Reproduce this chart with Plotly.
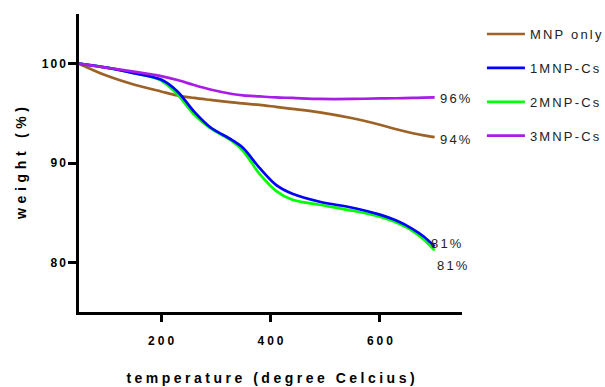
import plotly.graph_objects as go

temp = [50, 100, 150, 200, 230, 260, 290, 330, 350, 380, 410, 440, 490, 550, 600, 630, 660, 680, 700]
mnp_only = [100.0, 98.8, 97.9, 97.2, 96.8, 96.55, 96.35, 96.1, 96.0, 95.85, 95.65, 95.45, 95.1, 94.5, 93.85, 93.4, 93.0, 92.78, 92.6]
mnp1 = [100.0, 99.6, 99.05, 98.4, 97.2, 95.2, 93.6, 92.3, 91.5, 89.5, 87.8, 86.9, 86.1, 85.5, 84.8, 84.2, 83.35, 82.6, 81.6]
mnp2 = [100.0, 99.6, 99.05, 98.3, 96.9, 94.9, 93.5, 92.2, 91.2, 88.9, 87.2, 86.3, 85.8, 85.2, 84.6, 84.0, 83.15, 82.3, 81.2]
mnp3 = [100.0, 99.6, 99.2, 98.75, 98.35, 97.85, 97.4, 96.95, 96.8, 96.7, 96.6, 96.55, 96.45, 96.45, 96.5, 96.52, 96.55, 96.58, 96.6]

names = ["MNP only", "1MNP-Cs", "2MNP-Cs", "3MNP-Cs"]
series = [mnp_only, mnp1, mnp2, mnp3]
colors = ["#9C6226", "#0000FF", "#00FF00", "#A81CE6"]
order = [0, 2, 1, 3]  # drawing order (blue over green)

end_labels = ["94%", "81%", "81%", "96%"]
label_pos = [(92.4, 706), (81.9, 690), (79.7, 700), (96.45, 706)]

xticks = [200, 400, 600]
yticks = [80, 90, 100]

S6 = "\u2006"  # six-per-em space (letter spacing)
S5 = "\u2005"  # four-per-em space


def spaced(s, sep=S6):
    return sep.join(list(s))


FONT = "Liberation Sans, Arial, sans-serif"

fig = go.Figure()
for i in order:
    fig.add_trace(go.Scatter(
        x=temp, y=series[i], mode="lines", name=spaced(names[i]),
        line=dict(color=colors[i], width=2.7, shape="spline", smoothing=0.9),
        legendgroup=f"g{i}", legendrank=i,
    ))

for i in range(4):
    yv, xv = label_pos[i]
    fig.add_annotation(x=xv, y=yv, text=spaced(end_labels[i]), showarrow=False,
                       xanchor="left", yanchor="middle",
                       font=dict(family=FONT, size=13, color="#222"))

fig.update_layout(
    width=605, height=387,
    margin=dict(l=79, r=143, t=14, b=75, autoexpand=False),
    paper_bgcolor="white", plot_bgcolor="white",
    font=dict(family=FONT, size=12, color="black"),
    showlegend=True,
    legend=dict(x=1.052, y=0.983, xanchor="left", yanchor="top",
                font=dict(family=FONT, size=13, color="#222"),
                tracegroupgap=14, itemwidth=38, bgcolor="rgba(0,0,0,0)"),
    xaxis=dict(range=[50, 750], tickvals=xticks,
               ticktext=["<b>" + spaced(str(t), S5) + "</b>" for t in xticks],
               showline=True, linecolor="black", linewidth=2.5, ticks="outside",
               ticklen=7, tickwidth=2.5, tickcolor="black", showgrid=False,
               zeroline=False, ticklabelstandoff=9,
               tickfont=dict(family=FONT, size=12),
               title=dict(text="<b>" + spaced("temperature (degree Celcius)", S5) + "</b>",
                          font=dict(family=FONT, size=14), standoff=27)),
    yaxis=dict(range=[75, 105], tickvals=yticks,
               ticktext=["<b>" + spaced(str(t), S6) + "</b>" for t in yticks],
               showline=True, linecolor="black", linewidth=2.5, ticks="outside",
               ticklen=8, tickwidth=2.5, tickcolor="black", showgrid=False,
               zeroline=False,
               tickfont=dict(family=FONT, size=12),
               title=dict(text="<b>" + spaced("weight (%)", "\u2004") + "</b>",
                          font=dict(family=FONT, size=14), standoff=12)),
)

fig.write_html("out.html")
